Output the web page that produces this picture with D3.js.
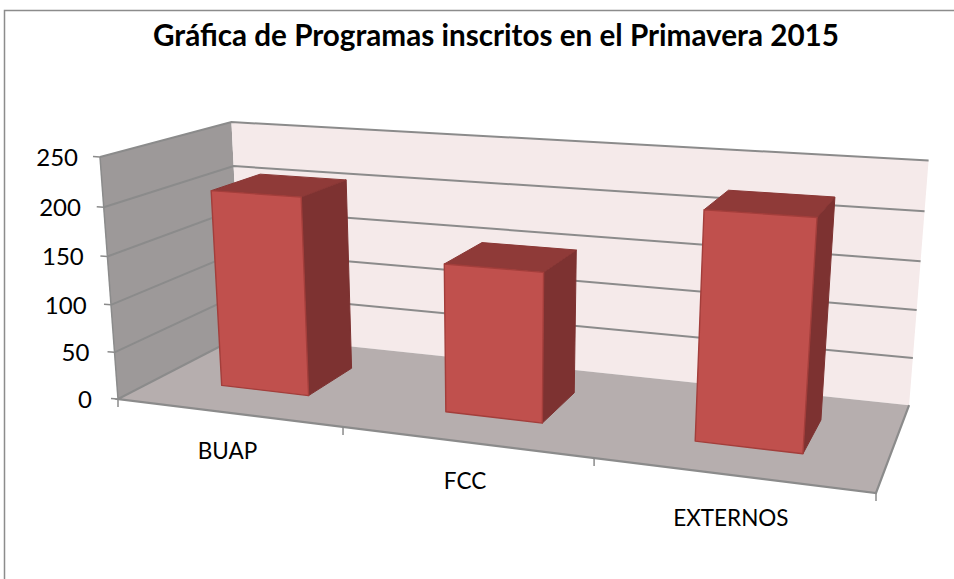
<!DOCTYPE html>
<html>
<head>
<meta charset="utf-8">
<script src="https://cdn.jsdelivr.net/npm/d3@7"></script>
<style>
html,body{margin:0;padding:0;background:#fff}
svg{display:block}
text{font-family:Lato,"Open Sans",sans-serif;fill:#000}
</style>
</head>
<body>
<svg id="chart" width="954" height="579"></svg>
<script>
const title = "Gráfica de Programas inscritos en el Primavera 2015";
const categories = ["BUAP", "FCC", "EXTERNOS"];
const programas = [208, 152, 223];
const yTicks = [0, 50, 100, 150, 200, 250];

const svg = d3.select("#chart");

// Model scales: category along the front edge, value upward, depth to the back
const xBand = d3.scaleBand().domain(categories).range([0, 1]).paddingInner(0.6).paddingOuter(0.3);
const xEdge = d3.scaleBand().domain(categories).range([0, 1]);
const yVal = d3.scaleLinear().domain([0, 250]).range([0, 1]);
const depthBar = [0.3, 0.7];

// Perspective projection of the plot box
const O = [118, 399], X = [876, 493], Y = [100, 157], Z = [242, 335];
const kx = 0.8444, ky = 0.955, kz = 1.144;
function project(u, v, w) {
  const d = 1 + u * (kx - 1) + v * (ky - 1) + w * (kz - 1);
  const c = i => (O[i] + u * (kx * X[i] - O[i]) + v * (ky * Y[i] - O[i]) + w * (kz * Z[i] - O[i])) / d;
  return [c(0), c(1)];
}
const path = pts => "M" + pts.map(p => p.map(n => n.toFixed(2)).join(",")).join("L") + "Z";
const open = pts => "M" + pts.map(p => p.map(n => n.toFixed(2)).join(",")).join("L");

// Frame
svg.append("path").attr("d", "M954,10.5H4.5V579").attr("fill", "none").attr("stroke", "#8c8c8c").attr("stroke-width", 1.5);

// Title
svg.append("text").attr("x", 496).attr("y", 46).attr("text-anchor", "middle")
  .attr("font-weight", 700).attr("font-size", 30).attr("textLength", 686).attr("lengthAdjust", "spacingAndGlyphs").text(title);

// Walls and floor
svg.append("path").attr("d", path([project(0,0,0), project(0,1,0), project(0,1,1), project(0,0,1)])).attr("fill", "#9d9999");
svg.append("path").attr("d", path([project(0,0,1), project(0,1,1), project(1,1,1), project(1,0,1)])).attr("fill", "#f5eaea");
svg.append("path").attr("d", path([project(0,0,0), project(0,0,1), project(1,0,1), project(1,0,0)])).attr("fill", "#b6aeae");

const grid = "#8b8b8b";
// Gridlines on both walls, with ticks on the front edge
yTicks.forEach(t => {
  const v = yVal(t);
  const a = project(0, v, 0), b = project(0, v, 1), c = project(1, v, 1);
  if (t > 0) {
    svg.append("path").attr("d", open([a, b, c])).attr("fill", "none").attr("stroke", grid).attr("stroke-width", 2);
  }
  svg.append("line").attr("x1", a[0]).attr("y1", a[1]).attr("x2", a[0] - 7).attr("y2", a[1] - 0.5).attr("stroke", grid).attr("stroke-width", 1.5);
  svg.append("text").attr("x", a[0] - 22 - 4 * (1 - v)).attr("y", a[1] + 9).attr("text-anchor", "end").attr("font-size", 24).text(d3.format("d")(t));
});

// Box edges
svg.append("path").attr("d", open([project(0,0,1), project(0,0,0), project(1,0,0), project(1,0,1)])).attr("fill", "none").attr("stroke", grid).attr("stroke-width", 2.2);
svg.append("path").attr("d", open([project(0,0,0), project(0,1,0)])).attr("fill", "none").attr("stroke", grid).attr("stroke-width", 1.5);

// Category ticks and labels
const edges = categories.map(c => xEdge(c)).concat([1]);
edges.forEach(u => {
  const p = project(u, 0, 0);
  svg.append("line").attr("x1", p[0]).attr("y1", p[1]).attr("x2", p[0]).attr("y2", p[1] + 8).attr("stroke", grid).attr("stroke-width", 1.5);
});
categories.forEach((c, i) => {
  const p = project(xEdge(c) + xEdge.bandwidth() / 2, 0, 0);
  svg.append("text").attr("x", p[0]).attr("y", p[1] + [46, 47, 51][i]).attr("text-anchor", "middle").attr("font-size", 22.5).text(c);
});

// Bars
const [w0, w1] = depthBar;
categories.forEach((c, i) => {
  const u0 = xBand(c), u1 = u0 + xBand.bandwidth(), v = yVal(programas[i]);
  const g = svg.append("g").attr("stroke-linejoin", "round");
  g.append("path").attr("d", path([project(u1,0,w0), project(u1,v,w0), project(u1,v,w1), project(u1,0,w1)]))
    .attr("fill", "#7d3231").attr("stroke", "#7d3231").attr("stroke-width", 1);
  g.append("path").attr("d", path([project(u0,v,w0), project(u1,v,w0), project(u1,v,w1), project(u0,v,w1)]))
    .attr("fill", "#8f3a38").attr("stroke", "#8a3735").attr("stroke-width", 1);
  g.append("path").attr("d", path([project(u0,0,w0), project(u0,v,w0), project(u1,v,w0), project(u1,0,w0)]))
    .attr("fill", "#c0504d").attr("stroke", "#a33e3b").attr("stroke-width", 1.4);
});
</script>
</body>
</html>
